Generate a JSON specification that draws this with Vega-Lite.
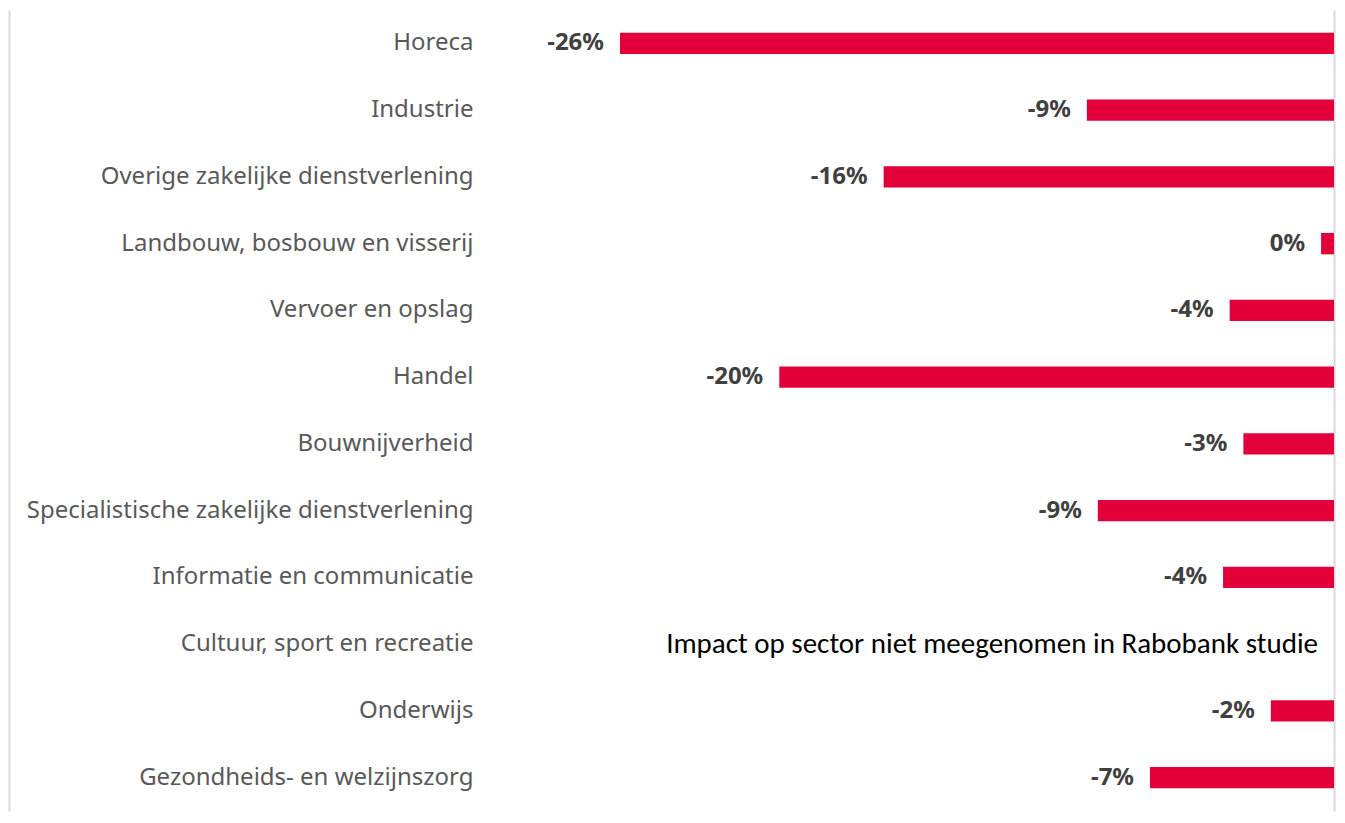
{
  "$schema": "https://vega.github.io/schema/vega-lite/v6.json",
  "width": 1325,
  "height": 801,
  "autosize": {"type": "none"},
  "padding": {"left": 9, "top": 10, "right": 11, "bottom": 12},
  "background": "white",
  "config": {"view": {"stroke": null}},
  "data": {
    "values": [
      {"sector": "Horeca", "value": -26.0, "label": "-26%", "note": ""},
      {"sector": "Industrie", "value": -9.0, "label": "-9%", "note": ""},
      {"sector": "Overige zakelijke dienstverlening", "value": -16.4, "label": "-16%", "note": ""},
      {"sector": "Landbouw, bosbouw en visserij", "value": -0.47, "label": "0%", "note": ""},
      {"sector": "Vervoer en opslag", "value": -3.8, "label": "-4%", "note": ""},
      {"sector": "Handel", "value": -20.2, "label": "-20%", "note": ""},
      {"sector": "Bouwnijverheid", "value": -3.3, "label": "-3%", "note": ""},
      {"sector": "Specialistische zakelijke dienstverlening", "value": -8.6, "label": "-9%", "note": ""},
      {"sector": "Informatie en communicatie", "value": -4.04, "label": "-4%", "note": ""},
      {"sector": "Cultuur, sport en recreatie", "value": null, "label": "", "note": "Impact op sector niet meegenomen in Rabobank studie"},
      {"sector": "Onderwijs", "value": -2.3, "label": "-2%", "note": ""},
      {"sector": "Gezondheids- en welzijnszorg", "value": -6.7, "label": "-7%", "note": ""}
    ]
  },
  "encoding": {
    "y": {
      "field": "sector",
      "type": "nominal",
      "sort": ["Horeca", "Industrie", "Overige zakelijke dienstverlening", "Landbouw, bosbouw en visserij", "Vervoer en opslag", "Handel", "Bouwnijverheid", "Specialistische zakelijke dienstverlening", "Informatie en communicatie", "Cultuur, sport en recreatie", "Onderwijs", "Gezondheids- en welzijnszorg"],
      "scale": {"paddingInner": 0.68, "paddingOuter": 0.34},
      "axis": {
        "title": null,
        "domain": false,
        "ticks": false,
        "labelPadding": 0,
        "offset": -464,
        "labelFont": "Noto Sans",
        "labelFontSize": 24,
        "labelColor": "#595959",
        "labelLimit": 600
      }
    }
  },
  "layer": [
    {
      "mark": {"type": "bar", "color": "#E3003A"},
      "encoding": {
        "x": {
          "field": "value",
          "type": "quantitative",
          "scale": {"domain": [-48.25, 0], "nice": false, "zero": false},
          "axis": {
            "title": null,
            "labels": false,
            "ticks": false,
            "domain": false,
            "values": [-48.25, 0],
            "grid": true,
            "gridColor": "#D9D9D9",
            "gridWidth": 2
          }
        },
        "x2": {"datum": 0}
      }
    },
    {
      "mark": {"type": "text", "align": "right", "baseline": "middle", "dx": -16, "font": "Noto Sans", "fontSize": 24, "fontWeight": "bold", "color": "#404040"},
      "encoding": {
        "x": {"field": "value", "type": "quantitative"},
        "text": {"field": "label"}
      }
    },
    {
      "mark": {"type": "text", "align": "right", "baseline": "middle", "dx": -16, "font": "Carlito, Lato", "fontSize": 29, "color": "#000000"},
      "encoding": {
        "x": {"datum": 0},
        "text": {"field": "note"}
      }
    }
  ]
}
